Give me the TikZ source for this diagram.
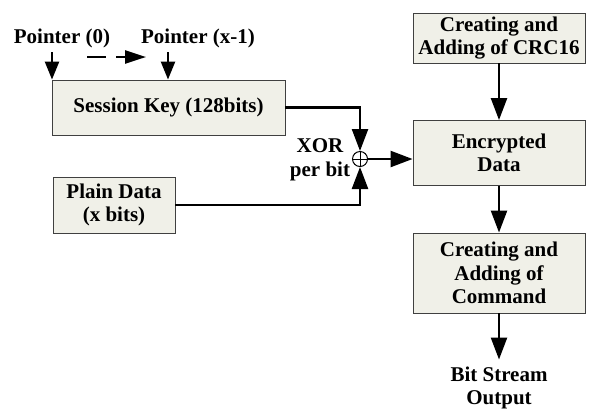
\documentclass[tikz,border=0pt]{standalone}
\usepackage{fontspec}
\setmainfont{Liberation Serif}
\usetikzlibrary{arrows.meta,calc}
\definecolor{boxfill}{HTML}{F0F0E8}
\definecolor{boxline}{HTML}{404040}
\tikzset{
  blk/.style={draw=boxline,line width=0.9pt,fill=boxfill,inner sep=0pt,align=center,
    font=\fontsize{21}{23.5}\selectfont\bfseries},
  lbl/.style={inner sep=0pt,align=center,font=\fontsize{21}{23.5}\selectfont\bfseries},
  conn/.style={line width=2.4pt,-{Triangle[length=22pt,width=16pt]}},
  ptr/.style={line width=2.4pt,-{Triangle[length=18pt,width=14pt]}},
}
\begin{document}
\begin{tikzpicture}[x=1pt,y=-1pt]
\useasboundingbox (0,0) rectangle (593,408);
% boxes
\node[blk,minimum width=233pt,minimum height=55pt] (sk) at (168.5,107.5) {Session Key (128bits)};
\node[blk,minimum width=122pt,minimum height=56pt] (pd) at (114,205) {Plain Data\\(x bits)};
\node[blk,minimum width=172pt,minimum height=50pt] (crc) at (499,38) {Creating and\\Adding of CRC16};
\node[blk,minimum width=172pt,minimum height=65pt] (enc) at (499,153) {Encrypted\\Data};
\node[blk,minimum width=172pt,minimum height=80pt] (cmd) at (499,273) {Creating and\\Adding of\\Command};
\node[lbl] (out) at (499,388) {Bit Stream\\Output};
% pointers
\node[lbl] (p0) at (62,38) {Pointer (0)};
\node[lbl] (px) at (198,38) {Pointer (x-1)};
\coordinate (p0s) at (52,52);
\coordinate (pxs) at (168,52);
\coordinate (da) at (87,57);
\coordinate (db) at (146,57);
\draw[ptr] (p0s) -- (p0s |- sk.north);
\draw[ptr] (pxs) -- (pxs |- sk.north);
\draw[line width=2.4pt,dash pattern=on 19pt off 10pt,-{Triangle[length=21pt,width=13pt]}] (da) -- (db);
% XOR
\node[draw,circle,line width=1pt,minimum size=15pt,inner sep=0pt] (x) at (360,159) {};
\draw[line width=1pt] (x.north) -- (x.south) (x.west) -- (x.east);
\node[lbl] (xl) at (320,160) {XOR\\per bit};
\draw[conn] (sk.east) -- (sk.east -| x.north) -- (x.north);
\draw[conn] (pd.east) -- (pd.east -| x.south) -- (x.south);
\draw[conn] (x.east) -- (x.east -| enc.west);
% right column
\draw[conn] (crc.south) -- (enc.north);
\draw[conn] (enc.south) -- (cmd.north);
\draw[conn] (cmd.south) -- ($(out.north)+(0,-7)$);
\end{tikzpicture}
\end{document}
